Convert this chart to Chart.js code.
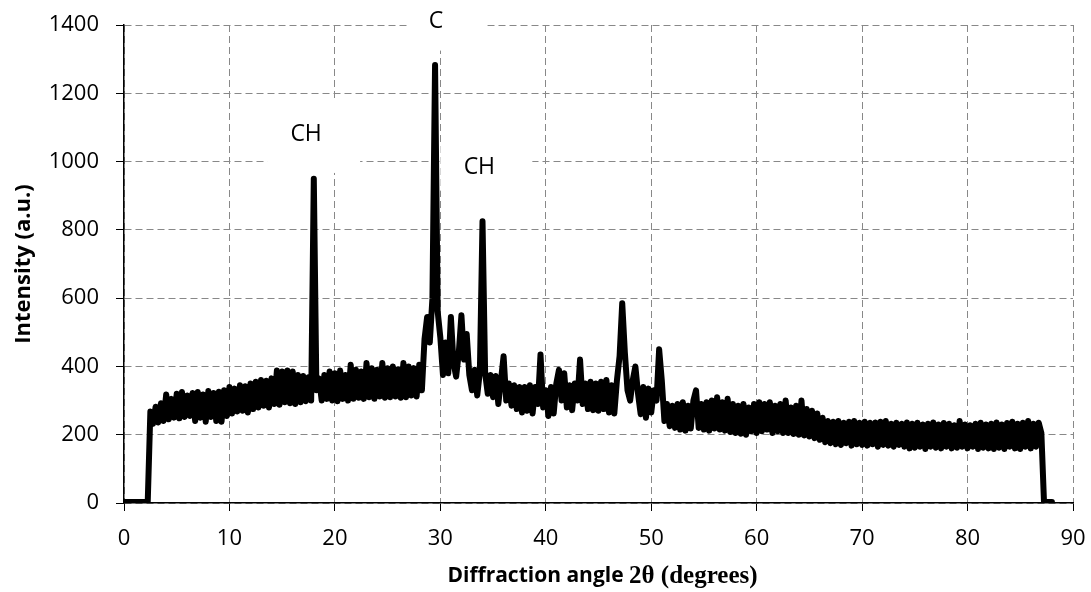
<!DOCTYPE html>
<html>
<head>
<meta charset="utf-8">
<script src="https://cdn.jsdelivr.net/npm/chart.js@4.4.1/dist/chart.umd.min.js"></script>
<style>
  html, body { margin: 0; padding: 0; background: #ffffff; }
  #wrap { width: 1091px; height: 592px; position: relative; }
</style>
</head>
<body>
<div id="wrap"><canvas id="c"></canvas></div>
<script>
// ---- Data ----
const angleStart = 0;      // degrees 2θ of first sample
const angleStep = 0.25;    // sampling step (degrees)
const intensity = [
  3,3,3,3,          // 0
  3,3,3,3,          // 1
  3,3,268,232,      // 2
  282,236,292,240,  // 3
  318,245,305,250,  // 4
  320,248,325,252,  // 5
  315,255,322,240,  // 6
  325,250,318,238,  // 7
  328,252,322,240,  // 8
  326,238,330,255,  // 9
  340,262,335,268,  // 10
  345,270,342,265,  // 11
  350,275,355,280,  // 12
  360,285,358,280,  // 13
  365,290,388,288,  // 14
  385,295,388,292,  // 15
  385,290,375,295,  // 16
  372,298,368,300,  // 17
  950,330,365,300,  // 18
  375,305,385,300,  // 19
  380,298,388,305,  // 20
  375,300,405,305,  // 21
  390,308,385,305,  // 22
  410,310,395,305,  // 23
  390,312,410,308,  // 24
  395,310,400,312,  // 25
  392,308,410,310,  // 26
  400,315,395,312,  // 27
  405,330,480,545,  // 28
  470,600,1283,560, // 29
  485,375,470,380,  // 30
  545,410,370,440,  // 31
  550,420,495,375,  // 32
  330,390,315,385,  // 33
  825,380,320,375,  // 34
  310,372,290,360,  // 35
  430,300,350,285,  // 36
  345,275,340,265,  // 37
  340,270,345,262,  // 38
  340,290,435,280,  // 39
  330,255,340,262,  // 40
  350,390,300,380,  // 41
  280,345,272,350,  // 42
  300,420,290,350,  // 43
  275,355,272,350,  // 44
  270,355,275,360,  // 45
  265,345,262,360,  // 46
  430,585,440,330,  // 47
  300,360,400,320,  // 48
  260,340,250,335,  // 49
  265,330,300,450,  // 50
  360,240,290,225,  // 51
  285,220,290,215,  // 52
  295,212,285,218,  // 53
  300,330,220,290,  // 54
  215,295,212,300,  // 55
  218,310,215,295,  // 56
  212,305,208,290,  // 57
  205,285,203,290,  // 58
  200,280,210,290,  // 59
  205,295,210,290,  // 60
  215,295,205,285,  // 61
  210,290,205,300,  // 62
  205,280,202,285,  // 63
  200,300,198,275,  // 64
  195,270,190,262,  // 65
  185,250,178,240,  // 66
  175,238,172,240,  // 67
  170,235,175,238,  // 68
  168,240,172,235,  // 69
  170,238,168,235,  // 70
  172,236,165,238,  // 71
  170,240,168,232,  // 72
  165,235,170,232,  // 73
  165,236,160,232,  // 74
  162,235,165,230,  // 75
  158,232,165,236,  // 76
  162,230,160,234,  // 77
  165,232,160,228,  // 78
  162,240,165,230,  // 79
  160,228,165,232,  // 80
  158,235,162,230,  // 81
  160,232,158,236,  // 82
  162,230,158,234,  // 83
  165,238,160,232,  // 84
  158,235,165,240,  // 85
  160,232,165,235,  // 86
  205,3,3,3,        // 87
  3                 // 88
];
const xTicks = [0,10,20,30,40,50,60,70,80,90];
const yTicks = [0,200,400,600,800,1000,1200,1400];
const peakLabels = ['CH', 'C', 'CH'];
const peakLabelAngles = [17.27, 29.6, 33.7];
const peakLabelIntensities = [1078, 1410, 984];
const xTitleA = 'Diffraction angle ';
const xTitleB = '2θ (degrees)';
const yTitle = 'Intensity (a.u.)';

// ---- Build chart ----
const points = intensity.map((v, i) => ({ x: angleStart + i * angleStep, y: v }));
const tickFont = { family: '"Open Sans", sans-serif', size: 22 };

// white boxes (offsets from label centre, px) behind peak labels
const labelBoxes = [
  { l: 39, r: 54, t: 35, b: 38 },
  { l: 28, r: 51, t: 30, b: 29 },
  { l: 39, r: 53, t: 24, b: 24 }
];

const annotPlugin = {
  id: 'annot',
  beforeDatasetsDraw(chart) {
    const ctx = chart.ctx, xs = chart.scales.x, ys = chart.scales.y;
    ctx.save();
    peakLabels.forEach((t, i) => {
      const px = xs.getPixelForValue(peakLabelAngles[i]);
      const py = ys.getPixelForValue(peakLabelIntensities[i]);
      const b = labelBoxes[i];
      const top = Math.max(0, py - b.t);
      ctx.fillStyle = '#ffffff';
      ctx.fillRect(px - b.l, top, b.l + b.r, py + b.b - top);
      ctx.fillStyle = '#000000';
      ctx.font = '23px "Open Sans", sans-serif';
      ctx.textAlign = 'center';
      ctx.textBaseline = 'middle';
      ctx.fillText(t, px, py);
    });
    ctx.restore();
  },
  afterDraw(chart) {
    const ctx = chart.ctx, area = chart.chartArea;
    ctx.save();
    ctx.fillStyle = '#000000';
    ctx.textBaseline = 'middle';
    // x title: two fonts
    const fA = 'bold 21px "Open Sans", sans-serif';
    const fB = 'bold 25px "Liberation Serif", serif';
    ctx.font = fA; const wA = ctx.measureText(xTitleA).width;
    ctx.font = fB; const wB = ctx.measureText(xTitleB).width;
    const cx = (area.left + area.right) / 2 + 4;
    const x0 = cx - (wA + wB) / 2;
    const ty = 576;
    ctx.textAlign = 'left';
    ctx.font = fA; ctx.fillText(xTitleA, x0, ty);
    ctx.font = fB; ctx.fillText(xTitleB, x0 + wA, ty + 1);
    // y title
    ctx.translate(24, 264);
    ctx.rotate(-Math.PI / 2);
    ctx.textAlign = 'center';
    ctx.font = 'bold 22px "Open Sans", sans-serif';
    ctx.fillText(yTitle, 0, 0);
    ctx.restore();
  }
};

const gridOpts = {
  color: '#888888', lineWidth: 1,
  tickColor: '#000000', tickLength: 8, tickBorderDash: [], tickWidth: 1
};
const borderOpts = { display: true, color: '#000000', width: 1.5, dash: [7, 4] };

new Chart(document.getElementById('c'), {
  type: 'line',
  data: {
    datasets: [{
      data: points,
      borderColor: '#000000',
      borderWidth: 6,
      pointRadius: 0,
      tension: 0,
      fill: false,
      borderJoinStyle: 'round',
      borderCapStyle: 'round'
    }]
  },
  options: {
    responsive: true,
    maintainAspectRatio: false,
    animation: false,
    events: [],
    layout: { padding: { top: 25, right: 18, left: 0, bottom: 0 } },
    plugins: { legend: { display: false }, tooltip: { enabled: false } },
    scales: {
      x: {
        type: 'linear',
        min: 0, max: 90,
        afterFit(s) { s.height = 89; s.paddingLeft = 0; s.paddingRight = 0; },
        afterBuildTicks(s) { s.ticks = xTicks.map(v => ({ value: v })); },
        ticks: { color: '#000', font: tickFont, padding: 15, maxRotation: 0, callback: v => String(v) },
        grid: gridOpts,
        border: borderOpts
      },
      y: {
        type: 'linear',
        min: 0, max: 1400,
        afterFit(s) { s.width = 124; s.paddingTop = 0; s.paddingBottom = 0; },
        afterBuildTicks(s) { s.ticks = yTicks.map(v => ({ value: v })); },
        ticks: { color: '#000', font: tickFont, padding: 17, callback: v => String(v) },
        grid: gridOpts,
        border: borderOpts
      }
    }
  },
  plugins: [annotPlugin]
});
</script>
</body>
</html>
